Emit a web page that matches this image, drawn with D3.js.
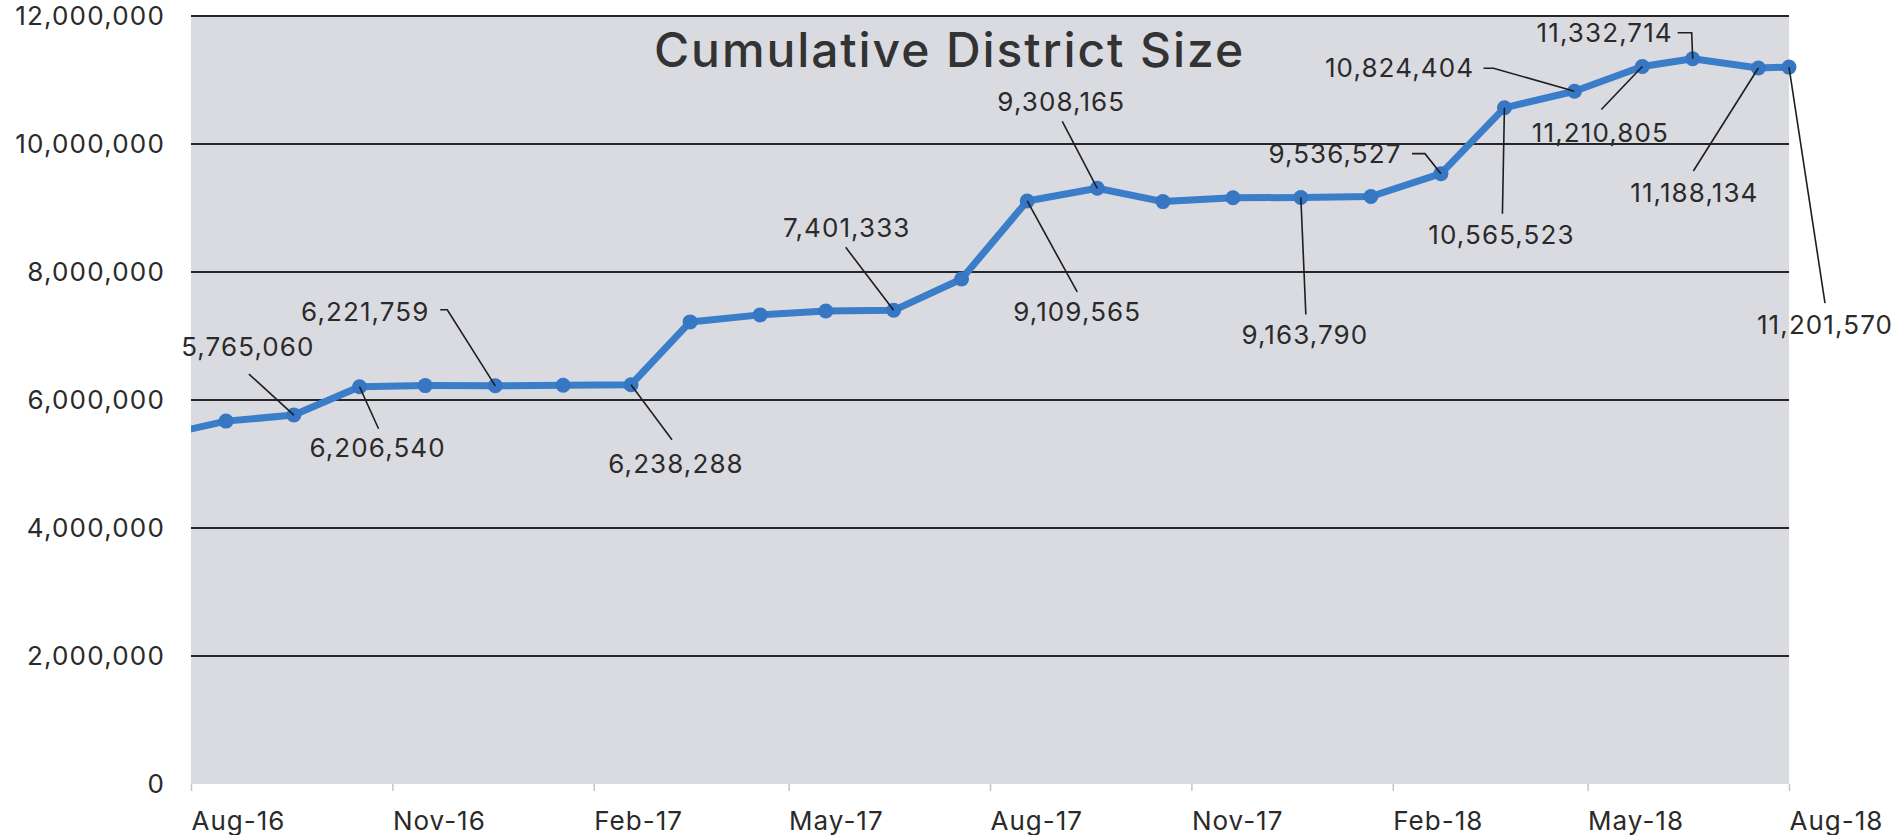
<!DOCTYPE html>
<html>
<head>
<meta charset="utf-8">
<script src="https://cdn.jsdelivr.net/npm/d3@7"></script>
<style>
  body { margin: 0; background: #fff; }
  text { font-family: Inter, "Open Sans", sans-serif; fill: #222; }
</style>
</head>
<body>
<div id="chart"></div>
<script>
// data (first point sits before Aug-16 and is clipped)
const dates = ["2016-07-18", "2016-08-17", "2016-09-17", "2016-10-17", "2016-11-16", "2016-12-18",
    "2017-01-18", "2017-02-18", "2017-03-17", "2017-04-18", "2017-05-18", "2017-06-18",
    "2017-07-19", "2017-08-18", "2017-09-19", "2017-10-19", "2017-11-20", "2017-12-21",
    "2018-01-22", "2018-02-23", "2018-03-24", "2018-04-25", "2018-05-26", "2018-06-18",
    "2018-07-18", "2018-08-01"];
const values = [5440000, 5670000, 5765060, 6206540, 6225000, 6221759,
    6230000, 6238288, 7220000, 7330000, 7390000, 7401333,
    7890000, 9109565, 9308165, 9100000, 9160000, 9163790,
    9180000, 9536527, 10565523, 10824404, 11210805, 11332714,
    11188134, 11201570];
// which points carry a value callout
const labelledDates = ["2016-09-17", "2016-10-17", "2016-12-18", "2017-02-18", "2017-06-18",
    "2017-08-18", "2017-09-19", "2017-12-21", "2018-02-23", "2018-03-24", "2018-04-25",
    "2018-05-26", "2018-06-18", "2018-07-18", "2018-08-01"];
const yTicks = [0, 2000000, 4000000, 6000000, 8000000, 10000000, 12000000];
const xTicks = ["2016-08-01", "2016-11-01", "2017-02-01", "2017-05-01", "2017-08-01",
    "2017-11-01", "2018-02-01", "2018-05-01", "2018-08-01"];
const title = "Cumulative District Size";

// callout layout: text centre and leader bend points, in px relative to the point
const calloutLayout = [
    {t: [-46, -68], lead: [[-45, -41]]},
    {t: [18, 61], lead: [[19, 42]]},
    {t: [-130, -74], lead: [[-55, -76], [-48, -76]]},
    {t: [45, 79], lead: [[41, 55]]},
    {t: [-47, -82], lead: [[-48, -63]]},
    {t: [50, 111], lead: [[50, 91]]},
    {t: [-36, -86], lead: [[-35, -67]]},
    {t: [4, 137], lead: [[5, 117]]},
    {t: [-106, -20], lead: [[-29, -20], [-16, -20]]},
    {t: [-3, 127], lead: [[-2, 106]]},
    {t: [-175, -23], lead: [[-91, -23], [-81, -23]]},
    {t: [-42, 66], lead: [[-41, 43]]},
    {t: [-88, -26], lead: [[-15, -26], [-1, -26]]},
    {t: [-64, 125], lead: [[-65, 103]]},
    {t: [36, 258], lead: [[36, 236]]}
];

const W = 1899, H = 835;
const margin = {top: 16, right: 110, bottom: 51, left: 191};
const w = W - margin.left - margin.right;
const h = H - margin.top - margin.bottom;

const parse = d3.timeParse("%Y-%m-%d");
const data = dates.map((d, i) => ({date: parse(d), value: values[i]}));

const x = d3.scaleTime().domain([parse("2016-08-01"), parse("2018-08-01")]).range([0, w]);
const y = d3.scaleLinear().domain([0, 12000000]).range([h, 0]);

const svg = d3.select("#chart").append("svg")
    .attr("width", W)
    .attr("height", H);

const g = svg.append("g").attr("transform", `translate(${margin.left},${margin.top})`);

// plot background
g.append("rect")
    .attr("width", w)
    .attr("height", h)
    .attr("fill", "#dadbe1");

g.append("clipPath").attr("id", "plotclip")
    .append("rect").attr("x", 0).attr("y", -10).attr("width", w + 10).attr("height", h + 10);

// gridlines
g.append("g")
    .selectAll("line")
    .data(yTicks.filter(d => d > 0))
    .join("line")
    .attr("x1", 0).attr("x2", w)
    .attr("y1", d => y(d)).attr("y2", d => y(d))
    .attr("stroke", "#262626")
    .attr("stroke-width", 2);

// y axis labels
const yAxis = g.append("g")
    .call(d3.axisLeft(y).tickValues(yTicks).tickSize(0).tickPadding(26).tickFormat(d3.format(",")));
yAxis.select(".domain").remove();
yAxis.selectAll("text")
    .attr("font-size", 26)
    .attr("font-weight", 400)
    .attr("letter-spacing", 1.2)
    .style("font-family", "Inter, sans-serif")
    .style("fill", "#2a2a2a");

// x axis
const xAxis = g.append("g")
    .attr("transform", `translate(0,${h})`)
    .call(d3.axisBottom(x).tickValues(xTicks.map(parse)).tickSize(7).tickFormat(d3.timeFormat("%b-%y")));
xAxis.select(".domain").remove();
xAxis.selectAll(".tick line").attr("stroke", "#c4c5c9").attr("stroke-width", 1.5);
xAxis.selectAll("text")
    .attr("text-anchor", "start")
    .attr("y", 37)
    .attr("dy", "0.35em")
    .attr("font-size", 26)
    .attr("font-weight", 400)
    .attr("letter-spacing", 1)
    .style("font-family", "Inter, sans-serif")
    .style("fill", "#2a2a2a");

// title
g.append("text")
    .attr("x", 654 - margin.left)
    .attr("y", 67 - margin.top)
    .attr("font-size", 48)
    .attr("font-weight", 500)
    .attr("letter-spacing", 1.9)
    .style("fill", "#333")
    .text(title);

// line and markers
const line = d3.line().x(d => x(d.date)).y(d => y(d.value));
const plot = g.append("g").attr("clip-path", "url(#plotclip)");

plot.append("path")
    .datum(data)
    .attr("d", line)
    .attr("fill", "none")
    .attr("stroke", "#3a7dc8")
    .attr("stroke-width", 7)
    .attr("stroke-linejoin", "round");

plot.selectAll("circle")
    .data(data)
    .join("circle")
    .attr("cx", d => x(d.date))
    .attr("cy", d => y(d.value))
    .attr("r", 7.5)
    .attr("fill", "#3776c2");

// callouts
const fmt = d3.format(",");
const labelled = labelledDates.map((ds, i) => {
    const d = data.find(p => +p.date === +parse(ds));
    return {px: x(d.date), py: y(d.value), value: d.value, lay: calloutLayout[i]};
});

const call = g.append("g").selectAll("g")
    .data(labelled)
    .join("g")
    .attr("transform", d => `translate(${d.px},${d.py})`);

call.append("polyline")
    .attr("points", d => d.lay.lead.concat([[0, 0]]).map(p => p.join(",")).join(" "))
    .attr("fill", "none")
    .attr("stroke", "#1e1e1e")
    .attr("stroke-width", 1.6);

call.append("text")
    .attr("x", d => d.lay.t[0])
    .attr("y", d => d.lay.t[1])
    .attr("dy", "0.35em")
    .attr("text-anchor", "middle")
    .attr("font-size", 26)
    .attr("font-weight", 400)
    .attr("letter-spacing", 1.1)
    .style("fill", "#2a2a2a")
    .text(d => fmt(d.value));
</script>
</body>
</html>
